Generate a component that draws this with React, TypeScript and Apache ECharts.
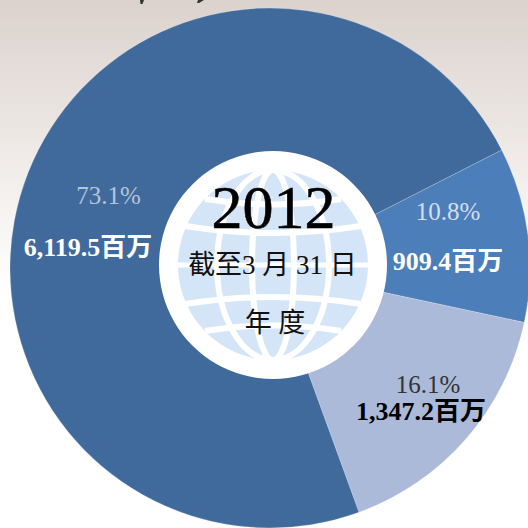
import React, { useEffect, useRef } from "react";
import * as echarts from "echarts";

const categories = ["B", "C", "A"];
const values = [909.4, 1347.2, 6119.5];
const percents = ["10.8%", "16.1%", "73.1%"];
const amounts = ["909.4百万", "1,347.2百万", "6,119.5百万"];
const sliceColors = ["#4C7EB9", "#ABBAD8", "#406A9B"];
const yearText = "2012";
const periodText = "截至3 月 31 日";
const yearSuffix = "年 度";

const SERIF = '"Liberation Serif","Noto Sans CJK TC",serif';

echarts.graphic.registerShape(
  "latitudes",
  echarts.graphic.extendPath(
    "M-88 -39Q0 -25 88 -39M-68 -66Q0 -55 68 -66M-88 39Q0 25 88 39M-68 66Q0 55 68 66",
    {}
  )
);

const labelRich = (pColor: string, vColor: string, lh: number, pPad: number[], vPad: number[]) => ({
  p: { fontFamily: SERIF, fontSize: 25, color: pColor, lineHeight: lh, padding: pPad },
  v: { fontFamily: SERIF, fontSize: 26, fontWeight: "bold", color: vColor, lineHeight: lh, padding: vPad },
});

const labelCfg = [
  { pos: [448, 236], rich: labelRich("#D3DEEE", "#FFFFFF", 50, [0, 0, 0, 0], [0, 0, 0, 0]) },
  { pos: [421, 398], rich: labelRich("#333333", "#000000", 27, [0, 0, 0, 14], [0, 0, 0, 0]) },
  { pos: [88, 221], rich: labelRich("#B5C4DA", "#FFFFFF", 52, [0, 0, 0, 41], [0, 0, 0, 0]) },
];

const Z = 10;

export default function App() {
  const ref = useRef<HTMLDivElement>(null);
  useEffect(() => {
    document.body.style.margin = "0";
    const chart = echarts.init(ref.current!, undefined, { renderer: "svg" });
    chart.setOption({
      animation: false,
      backgroundColor: new echarts.graphic.LinearGradient(0, 0, 0, 1, [
        { offset: 0, color: "#DBD2CD" },
        { offset: 0.3, color: "#F0EBE8" },
        { offset: 0.55, color: "#FFFFFF" },
        { offset: 1, color: "#FFFFFF" },
      ]),
      series: [
        {
          type: "pie",
          center: [270, 268],
          radius: [0, 260],
          startAngle: 27,
          clockwise: true,
          silent: true,
          data: categories.map((name, i) => ({
            name,
            value: values[i],
            itemStyle: { color: sliceColors[i] },
            label: {
              formatter: `{p|${percents[i]}}\n{v|${amounts[i]}}`,
              rich: labelCfg[i].rich,
            },
          })),
          itemStyle: { borderColor: "rgba(255,255,255,0.35)", borderWidth: 0.6 },
          label: { show: true, position: "inside" },
          labelLine: { show: false },
          labelLayout: (p: any) => {
            const c = labelCfg[p.dataIndex];
            return { x: c.pos[0], y: c.pos[1], align: "center", verticalAlign: "middle" };
          },
        },
      ],
      graphic: [
        { type: "polygon", z: Z, shape: { points: [[140, 0], [144, 0], [142.5, 4], [140.5, 4]] }, style: { fill: "#333" } },
        { type: "polygon", z: Z, shape: { points: [[198, 0], [204, 0], [199, 3], [197, 3]] }, style: { fill: "#333" } },
        {
          type: "group",
          x: 273,
          y: 265,
          z: Z,
          silent: true,
          children: [
            { type: "circle", z: Z, shape: { r: 114 }, style: { fill: "#FFFFFF" } },
            { type: "circle", z: Z, shape: { r: 95 }, style: { fill: "#D5E5F8" } },
            { type: "ellipse", z: Z, shape: { rx: 21, ry: 95 }, style: { fill: "none", stroke: "#FFFFFF", lineWidth: 6 } },
            { type: "ellipse", z: Z, shape: { rx: 56, ry: 95 }, style: { fill: "none", stroke: "#FFFFFF", lineWidth: 6 } },
            { type: "line", z: Z, shape: { x1: -96, y1: 0, x2: 96, y2: 0 }, style: { stroke: "#FFFFFF", lineWidth: 5 } },
            { type: "latitudes", z: Z, style: { fill: "none", stroke: "#FFFFFF", lineWidth: 6 } },
          ],
        },
        { type: "text", z: Z, x: 273.5, y: 207, style: { text: yearText, fontFamily: SERIF, fontSize: 62, fill: "#000", stroke: "#000", lineWidth: 0.6, textAlign: "center", textVerticalAlign: "middle" } },
        { type: "text", z: Z, x: 272.5, y: 265, style: { text: periodText, fontFamily: SERIF, fontSize: 27, fill: "#111", textAlign: "center", textVerticalAlign: "middle" } },
        { type: "text", z: Z, x: 275, y: 323, style: { text: yearSuffix, fontFamily: SERIF, fontSize: 27, fill: "#111", textAlign: "center", textVerticalAlign: "middle" } },
      ],
    });
    return () => chart.dispose();
  }, []);
  return <div ref={ref} style={{ width: 528, height: 528 }} />;
}
